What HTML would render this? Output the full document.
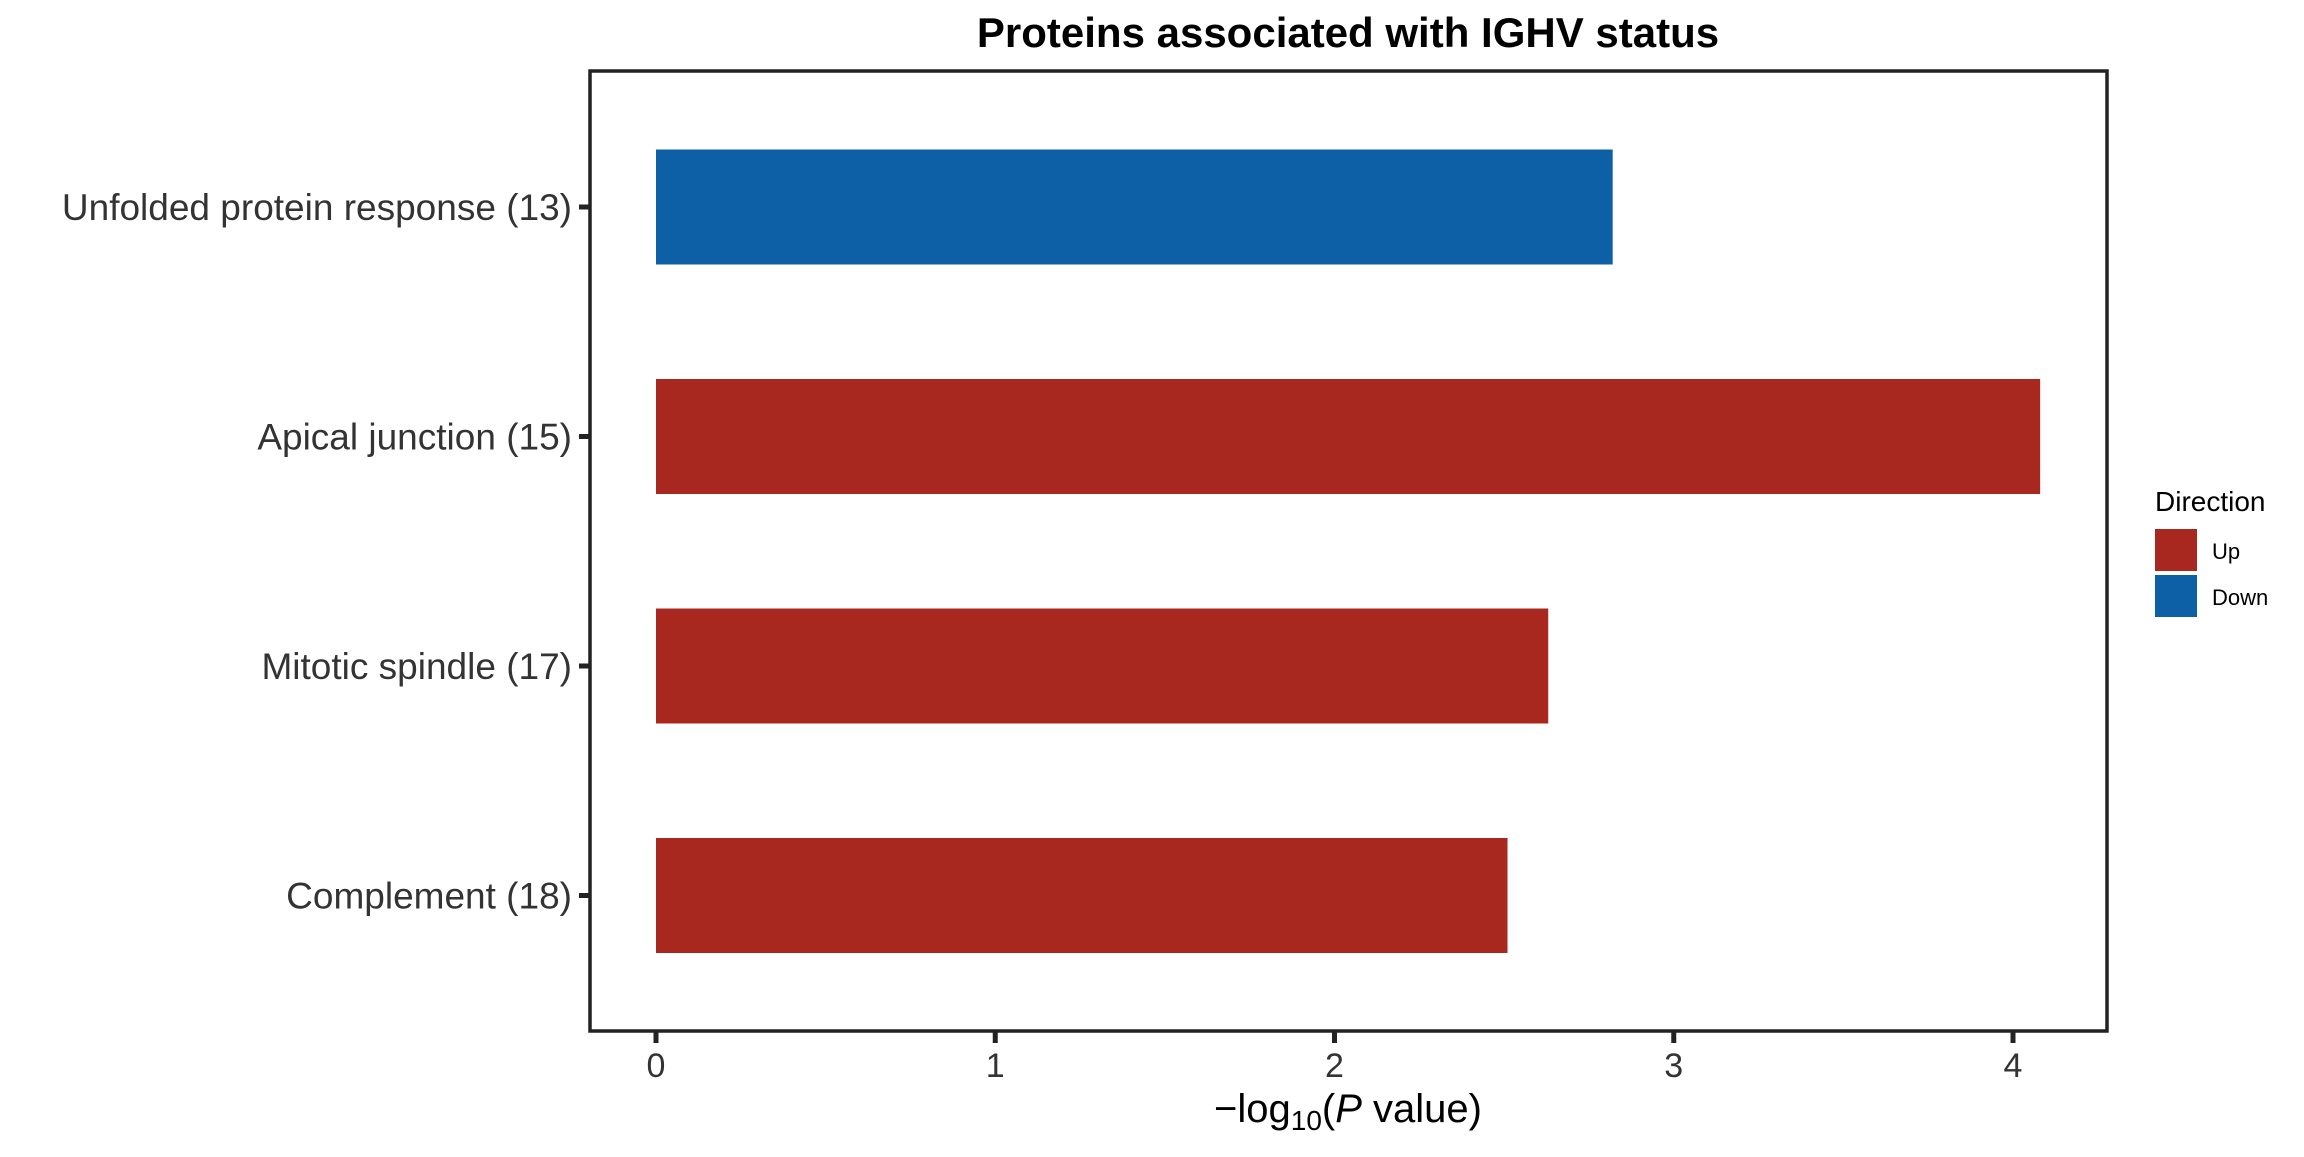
<!DOCTYPE html>
<html><head><meta charset="utf-8"><style>
html,body{margin:0;padding:0;background:#fff;}
svg text{font-family:"Liberation Sans",Arial,sans-serif;}
</style></head><body>
<svg id="chart" width="2304" height="1152" xmlns="http://www.w3.org/2000/svg">
<text x="1348" y="47" text-anchor="middle" font-size="42" font-weight="bold" fill="#000">Proteins associated with IGHV status</text>
<rect x="590" y="71" width="1517" height="960" fill="#fff" stroke="#222" stroke-width="3.5"/>
<g id="bars"></g>
<g id="yaxis"></g>
<g id="xaxis"></g>
<text x="1348" y="1122" text-anchor="middle" font-size="40" fill="#000">−log<tspan font-size="28" dy="8">10</tspan><tspan dy="-8">(</tspan><tspan font-style="italic">P</tspan> value)</text>
<g>
<text x="2155" y="511" font-size="28" fill="#000">Direction</text>
<rect x="2155" y="529" width="42" height="42" fill="#A82820"/>
<text x="2212" y="559" font-size="22" fill="#000">Up</text>
<rect x="2155" y="575" width="42" height="42" fill="#0D5FA6"/>
<text x="2212" y="605" font-size="22" fill="#000">Down</text>
</g>
</svg>
<script>
const categories = ["Unfolded protein response (13)","Apical junction (15)","Mitotic spindle (17)","Complement (18)"];
const values = [2.82, 4.08, 2.63, 2.51];
const directions = ["Down","Up","Up","Up"];
const xTicks = [0,1,2,3,4];
const NS="http://www.w3.org/2000/svg";
const x0=656, unit=339.25;
function xs(v){return x0+v*unit;}
const yTop=207, step=229.5, barH=115;
function ys(i){return yTop+i*step;}
const colors={Up:"#A82820",Down:"#0D5FA6"};
const bars=document.getElementById('bars'), ya=document.getElementById('yaxis'), xa=document.getElementById('xaxis');
function mk(tag,attrs,parent){const e=document.createElementNS(NS,tag);for(const k in attrs)e.setAttribute(k,attrs[k]);parent.appendChild(e);return e;}
categories.forEach((c,i)=>{
  const r=mk('rect',{x:xs(0),y:ys(i)-barH/2,width:xs(values[i])-xs(0),height:barH,fill:colors[directions[i]]},bars);
  
  
  const t=mk('line',{x1:579,x2:590,y1:ys(i),y2:ys(i),stroke:'#222','stroke-width':5},ya);
  
  
  const l=mk('text',{x:572,y:ys(i)+13,'text-anchor':'end','font-size':37,fill:'#333'},ya);
  l.textContent=c;
  
  
});
xTicks.forEach(v=>{
  const t=mk('line',{x1:xs(v),x2:xs(v),y1:1031,y2:1043,stroke:'#222','stroke-width':5},xa);
  
  
  const l=mk('text',{x:xs(v),y:1077,'text-anchor':'middle','font-size':34,fill:'#333'},xa);
  l.textContent=v;
  
  
});
</script>
</body></html>
